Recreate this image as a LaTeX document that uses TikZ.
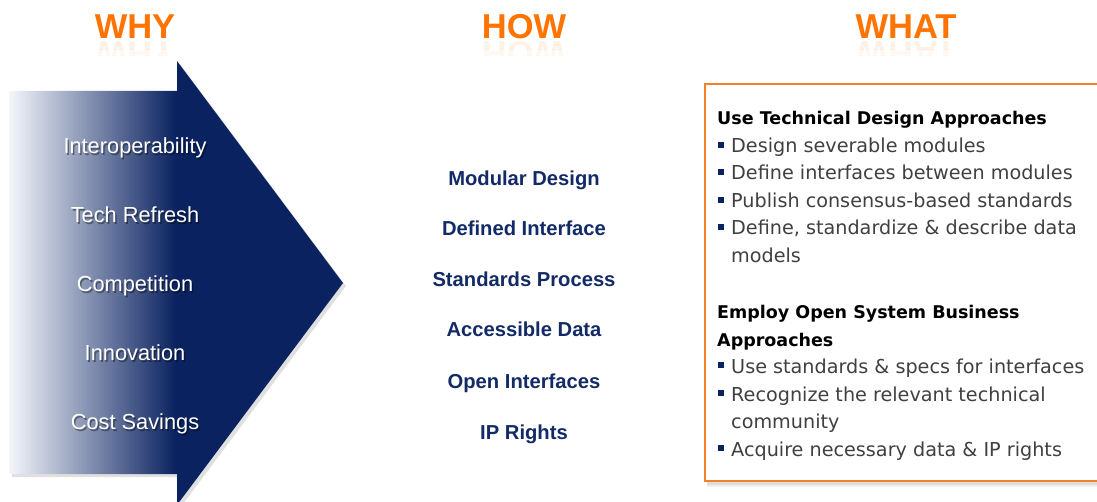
\documentclass[tikz,border=0pt]{standalone}
\usepackage{fontspec}
\setmainfont{Liberation Sans}
\newfontfamily\boxfont{DejaVu Sans}
\definecolor{navy}{RGB}{10,34,96}
\definecolor{navytext}{RGB}{18,42,102}
\definecolor{whylight}{RGB}{244,246,251}
\definecolor{ttl}{RGB}{255,115,0}
\definecolor{boxorange}{RGB}{245,128,40}
\definecolor{graytxt}{RGB}{64,64,64}
\pgfdeclarehorizontalshading{whyshade}{100bp}{color(0bp)=(whylight); color(25bp)=(whylight); color(50bp)=(navy); color(100bp)=(navy)}
\tikzset{
  ttlstyle/.style={text=ttl, font=\bfseries\fontsize{34.5}{36}\selectfont, inner sep=0pt, anchor=base},
  ttlrefl/.style={ttlstyle, yscale=-1, opacity=0.09},
  whytxt/.style={text=white, font=\fontsize{21.8}{24}\selectfont, inner sep=0pt, anchor=base},
  whyshadow/.style={text=black, opacity=0.4, font=\fontsize{21.8}{24}\selectfont, inner sep=0pt, anchor=base},
  howtxt/.style={text=navytext, font=\bfseries\fontsize{20.2}{22}\selectfont, inner sep=0pt, anchor=base},
  head/.style={text=black, font=\boxfont\bfseries\fontsize{17.5}{20}\selectfont, inner sep=0pt, anchor=base west},
  item/.style={text=graytxt, font=\boxfont\fontsize{19.2}{22}\selectfont, inner sep=0pt, anchor=base west},
  bul/.style={fill=navy, minimum size=6pt, inner sep=0pt, draw=none},
  whatbox/.style={draw=boxorange, line width=1.8pt}
}
\begin{document}
\begin{tikzpicture}[x=1pt,y=-1pt]
\useasboundingbox (0,0) rectangle (1097,502);
\begin{scope}
\clip (0,0) rectangle (1097,502);
% arrow shadow
\fill[black, opacity=0.12] (12,94) -- (180,94) -- (180,64) -- (346,286) -- (180,508) -- (180,477) -- (12,477) -- cycle;
% arrow
\shade[shading=whyshade] (9,91) -- (177,91) -- (177,61) -- (343,283) -- (177,505) -- (177,474) -- (9,474) -- cycle;
% titles
\node[ttlstyle] (why) at (135,38.5) {WHY};
\node[ttlstyle] (how) at (524,38.5) {HOW};
\node[ttlstyle] (what) at (906,38.5) {WHAT};
\begin{scope}
\clip (0,41.5) rectangle (1097,50);
\node[ttlrefl] (whyr) at (135,41.5) {WHY};
\node[ttlrefl] (howr) at (524,41.5) {HOW};
\node[ttlrefl] (whatr) at (906,41.5) {WHAT};
\end{scope}
\begin{scope}
\clip (0,50) rectangle (1097,56);
\node[ttlrefl, opacity=0.05] (whyr2) at (135,41.5) {WHY};
\node[ttlrefl, opacity=0.05] (howr2) at (524,41.5) {HOW};
\node[ttlrefl, opacity=0.05] (whatr2) at (906,41.5) {WHAT};
\end{scope}
% why items
\foreach \t/\y [count=\i] in {Interoperability/146, Tech Refresh/215, Competition/284, Innovation/353, Cost Savings/422}{
  \node[whyshadow] (whys\i) at (136.5,\y+9.3) {\t};
  \node[whytxt] (why\i) at (135,\y+7.8) {\t};
}
% how items
\foreach \t/\y [count=\i] in {Modular Design/179, Defined Interface/229, Standards Process/280, Accessible Data/330, Open Interfaces/381, IP Rights/432}{
  \node[howtxt] (how\i) at (524,\y+7) {\t};
}
% what box
\fill[black, opacity=0.06] (707,86) rectangle (1100,487);
\fill[black, opacity=0.08] (707,86) rectangle (1100,485);
\fill[white] (705,84) rectangle (1100,481);
\draw[whatbox] (705,84) rectangle (1100,481);
\node[head] (h1) at (717,125) {Use Technical Design Approaches};
\node[head] (h2) at (717,319) {Employ Open System Business};
\node[head] (h2b) at (717,346) {Approaches};
\foreach \t/\y [count=\i] in {Design severable modules/146, Define interfaces between modules/173, Publish consensus-based standards/201, {Define, standardize \& describe data}/228, Use standards \& specs for interfaces/366, Recognize the relevant technical/394, Acquire necessary data \& IP rights/449}{
  \node[bul] (b\i) at (721,\y-1) {};
  \node[item] (it\i) at (731,\y+7) {\t};
}
\node[item] (it4b) at (731,263) {models};
\node[item] (it6b) at (731,428) {community};
\end{scope}
\end{tikzpicture}
\end{document}
